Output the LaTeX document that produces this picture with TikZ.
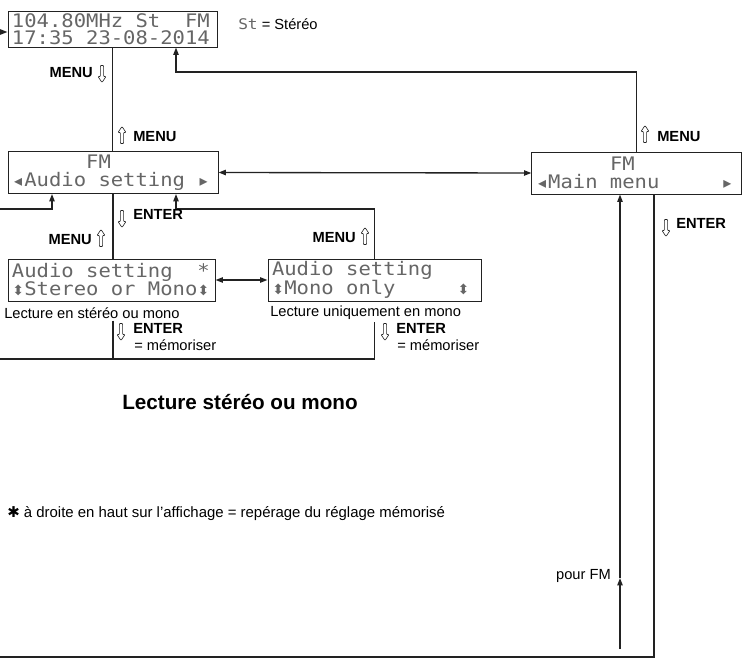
\documentclass[tikz,border=0pt]{standalone}
\usepackage{fontspec}
\setmainfont{Liberation Sans}
\newfontfamily\lcdfont[FakeStretch=1.1]{DejaVu Sans Mono}
\newfontfamily\symfont{DejaVu Sans}
\usetikzlibrary{arrows.meta,positioning}
\definecolor{linec}{HTML}{222222}
\definecolor{lcdc}{HTML}{666666}
\newcommand{\lsp}{\hphantom{0}}
\newcommand{\lsym}{\makebox[0.662em][c]{\symfont\fontsize{12}{12}\selectfont ◂}}
\newcommand{\rsym}{\makebox[0.662em][c]{\symfont\fontsize{12}{12}\selectfont ▸}}
\newcommand{\usym}{\makebox[0.662em][c]{\symfont\fontsize{10.5}{10.5}\selectfont ⬍}}
\tikzset{
  ar/.style={-{Triangle[length=5.5pt,width=4pt]},line width=1pt,linec},
  dar/.style={{Triangle[length=5.5pt,width=4pt]}-{Triangle[length=5.5pt,width=4pt]},line width=1pt,linec},
  ln/.style={line width=1pt,linec},
  lcd/.style={draw=linec,line width=0.75pt,font=\lcdfont\fontsize{14}{13.5}\selectfont,text=lcdc,
    align=left,inner xsep=3pt,inner ysep=0pt,minimum height=31.5pt,text width=#1},
  key/.style={font=\bfseries\fontsize{11}{12}\selectfont,inner sep=0pt},
  txt/.style={font=\fontsize{11}{13}\selectfont,inner sep=0pt},
  uparr/.pic={\draw[line width=0.5pt,linec,rounded corners=0.6pt] (-1.6,8.5) -- (-1.6,-2.5) -- (-4,-2.5) -- (0,-8.5) -- (4,-2.5) -- (1.6,-2.5) -- (1.6,8.5) -- cycle;},
  dnarr/.pic={\draw[line width=0.5pt,linec,rounded corners=0.6pt] (-1.6,-8.5) -- (-1.6,2.5) -- (-4,2.5) -- (0,8.5) -- (4,2.5) -- (1.6,2.5) -- (1.6,-8.5) -- cycle;}
}
\begin{document}
\begin{tikzpicture}[x=0.75pt,y=-0.75pt]
\useasboundingbox (0,0) rectangle (747,664);
% displays
\node[lcd=150.75pt,minimum height=27pt,font=\lcdfont\fontsize{14}{13}\selectfont] (radio) at (112.5,29) {104.80MHz\lsp St\lsp\lsp FM\\17:35\lsp 23-08-2014};
\node[lcd=151.5pt] (audio) at (113,172.5) {\lsp\lsp\lsp\lsp\lsp\lsp FM\\\lsym Audio\lsp setting\lsp\rsym};
\node[lcd=151pt] (mainmenu) at (636.5,173) {\lsp\lsp\lsp\lsp\lsp\lsp FM\\\lsym Main\lsp menu\lsp\lsp\lsp\lsp\lsp\rsym};
\node[lcd=149.25pt] (stereo) at (111.5,280) {Audio\lsp setting\lsp\lsp*\\\usym Stereo\lsp or\lsp Mono\usym};
\node[lcd=153.75pt] (mono) at (374.5,280) {Audio\lsp setting\\\usym Mono\lsp only\lsp\lsp\lsp\lsp\lsp\usym};
% notes
\node[txt,anchor=west] (stnote) at (238,24) {{\lcdfont\fontsize{11}{11}\selectfont\color{lcdc}St}~= Stéréo};
\node[txt,anchor=west] (capS) at (4,313) {Lecture en stéréo ou mono};
\node[txt,anchor=west] (capM) at (270,313) {Lecture uniquement en mono};
\node[font=\bfseries\fontsize{15.5}{18}\selectfont,inner sep=0pt,anchor=west] (title) at (122,402) {Lecture stéréo ou mono};
\node[txt,anchor=west,font=\fontsize{11.2}{13}\selectfont] (foot) at (7,514) {{\symfont ✱} à droite en haut sur l’affichage = repérage du réglage mémorisé};
\node[txt,anchor=east] (pourfm) at (611,576) {pour FM};
% connectors
\coordinate (inR) at (0,32);
\draw[ar] (inR) -- (inR -| radio.west);
\draw[ln] (radio.south) -- (radio.south |- audio.north);
\coordinate (retR) at (176,72);
\draw[ar] (mainmenu.north) |- (retR) -- (retR |- radio.south);
\draw[dar] (audio.east) -- (mainmenu.west);
\coordinate (inA) at (0,209);
\coordinate (inAx) at (52,209);
\draw[ar] (inA) -- (inAx) -- (inAx |- audio.south);
\coordinate (retA) at (176,209);
\draw[ar] (mono.north) |- (retA) -- (retA |- audio.south);
\draw[ln] (audio.south) -- (audio.south |- stereo.north);
\draw[dar] (stereo.east) -- (mono.west);
\coordinate (lowL) at (0,359);
\draw[ln] (audio.south |- capS.south) ++(0,2) -- (audio.south |- lowL);
\draw[ln] (mono.south |- capM.south) ++(0,2) |- (lowL);
\coordinate (entB) at (654,657);
\coordinate (lowB) at (0,657);
\draw[ln] (entB |- mainmenu.south) -- (entB) -- (lowB);
\coordinate (pf) at (620,649);
\coordinate (pfm) at (620,578);
\draw[ar] (pf) -- (pfm);
\draw[ar] (pfm) -- (pfm |- mainmenu.south);
% key labels
\pic at (102,74) {dnarr};
\node[key,anchor=east] (k1) at (93,73) {MENU};
\pic at (122,135) {uparr};
\node[key,anchor=west] (k2) at (133,137) {MENU};
\pic at (122,219) {dnarr};
\node[key,anchor=west] (k3) at (133,214) {ENTER};
\pic at (101,238) {uparr};
\node[key,anchor=east] (k4) at (92,240) {MENU};
\pic at (365,236) {uparr};
\node[key,anchor=east] (k5) at (356,238) {MENU};
\pic at (121,332) {dnarr};
\node[key,anchor=west] (k6) at (133,328) {ENTER};
\node[txt,anchor=west] (m6) at (134,345) {= mémoriser};
\pic at (385,332) {dnarr};
\node[key,anchor=west] (k7) at (396,328) {ENTER};
\node[txt,anchor=west] (m7) at (397,345) {= mémoriser};
\pic at (645,134) {uparr};
\node[key,anchor=west] (k8) at (657,137) {MENU};
\pic at (666,228) {dnarr};
\node[key,anchor=west] (k9) at (676,223) {ENTER};
\end{tikzpicture}
\end{document}
